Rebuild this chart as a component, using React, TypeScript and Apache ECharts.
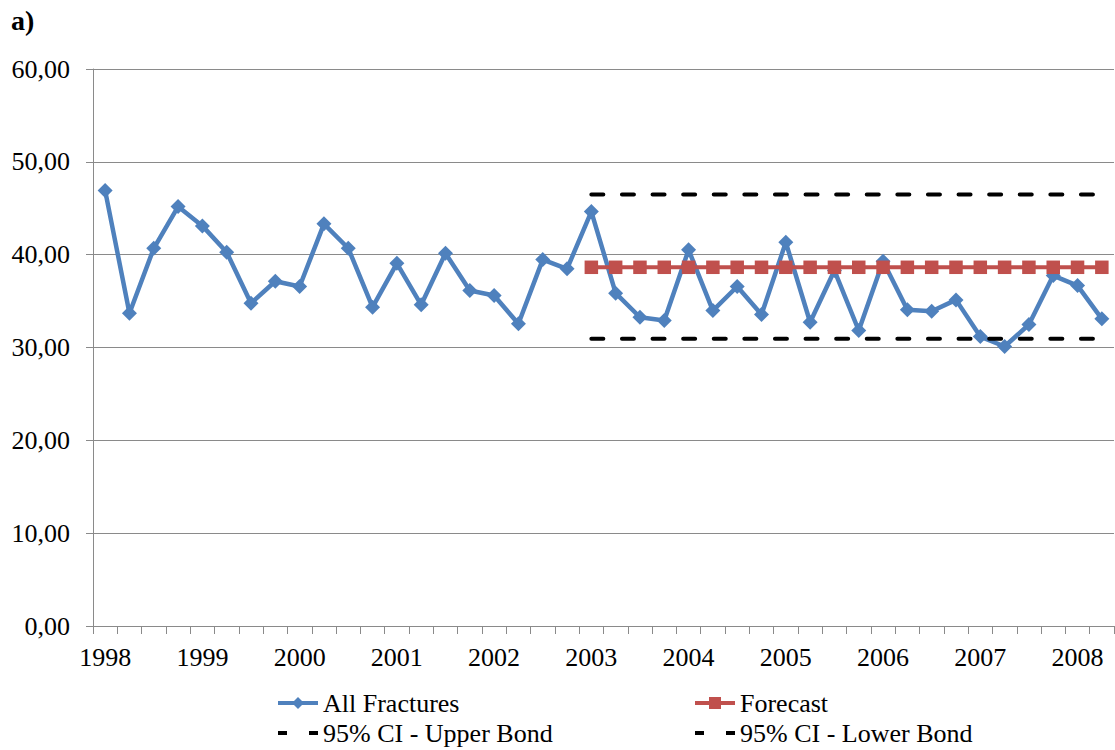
import React, { useEffect, useRef } from "react";
import * as echarts from "echarts";

const years = ["1998","1999","2000","2001","2002","2003","2004","2005","2006","2007","2008"];
const quarters = ["Q1","Q2","Q3","Q4"];
const categories: string[] = [];
years.forEach((y) => quarters.forEach((q) => categories.push(y + " " + q)));
categories.length = 42; // 1998 Q1 .. 2008 Q2

const allFractures = [
  46.90, 33.69, 40.69, 45.18, 43.10, 40.26, 34.77, 37.14, 36.57, 43.32,
  40.69, 34.34, 39.07, 34.60, 40.15, 36.14, 35.60, 32.55, 39.47, 38.47,
  44.64, 35.85, 33.26, 32.91, 40.52, 33.98, 36.57, 33.55, 41.33, 32.72,
  38.29, 31.83, 39.29, 34.06, 33.91, 35.13, 31.18, 30.11, 32.48, 37.75,
  36.67, 33.09,
];

const N = null;
const forecast = [
  N, N, N, N, N, N, N, N, N, N, N, N, N, N, N, N, N, N, N, N,
  38.64, 38.64, 38.64, 38.64, 38.64, 38.64, 38.64, 38.64, 38.64, 38.64,
  38.64, 38.64, 38.64, 38.64, 38.64, 38.64, 38.64, 38.64, 38.64, 38.64,
  38.64, 38.64,
];
const upperBond = [
  N, N, N, N, N, N, N, N, N, N, N, N, N, N, N, N, N, N, N, N,
  46.47, 46.47, 46.47, 46.47, 46.47, 46.47, 46.47, 46.47, 46.47, 46.47,
  46.47, 46.47, 46.47, 46.47, 46.47, 46.47, 46.47, 46.47, 46.47, 46.47,
  46.47, 46.47,
];
const lowerBond = [
  N, N, N, N, N, N, N, N, N, N, N, N, N, N, N, N, N, N, N, N,
  30.94, 30.94, 30.94, 30.94, 30.94, 30.94, 30.94, 30.94, 30.94, 30.94,
  30.94, 30.94, 30.94, 30.94, 30.94, 30.94, 30.94, 30.94, 30.94, 30.94,
  30.94, 30.94,
];

const FONT = "Liberation Serif";
const GRAY = "#8a8a8a";
const BLUE = "#4F81BD";
const RED = "#C0504D";

export default function App() {
  const ref = useRef<HTMLDivElement>(null);
  useEffect(() => {
    if (!ref.current) return;
    const chart = echarts.init(ref.current, null, { renderer: "svg" });
    const dash = { width: 4, color: "#000", type: [12, 18.6] as any, cap: "round" as any };
    const legendDash = (name: string) => ({
      name,
      itemStyle: { color: "rgba(0,0,0,0)", borderWidth: 0, opacity: 0 },
      lineStyle: { width: 4, color: "#000", type: [9, 22] as any, cap: "butt" as any },
    });
    const legendSolid = (name: string, color: string) => ({
      name,
      itemStyle: { color },
      lineStyle: { width: 4, color, type: "solid" as any },
    });
    const legendText = { fontFamily: FONT, fontSize: 26, color: "#000", lineHeight: 26 };
    chart.setOption({
      animation: false,
      backgroundColor: "#fff",
      textStyle: { fontFamily: FONT },
      title: {
        text: "a)",
        left: 11,
        top: 6,
        padding: 0,
        textStyle: { fontFamily: FONT, fontSize: 28, fontWeight: "bold", color: "#000" },
      },
      grid: { left: 93, right: 1, top: 69, bottom: 124, containLabel: false },
      legend: [
        {
          orient: "vertical",
          left: 276,
          top: 690,
          padding: 0,
          itemWidth: 40,
          itemHeight: 15,
          itemGap: 4,
          data: [legendSolid("All Fractures", BLUE), legendDash("95% CI - Upper Bond")],
          textStyle: legendText,
        },
        {
          orient: "vertical",
          left: 693,
          top: 690,
          padding: 0,
          itemWidth: 40,
          itemHeight: 15,
          itemGap: 4,
          data: [legendSolid("Forecast", RED), legendDash("95% CI - Lower Bond")],
          textStyle: legendText,
        },
      ],
      xAxis: {
        type: "category",
        data: categories,
        boundaryGap: true,
        axisLine: { lineStyle: { color: GRAY, width: 1 } },
        axisTick: { show: true, interval: 0, length: 8, lineStyle: { color: GRAY } },
        axisLabel: {
          interval: 3,
          margin: 18,
          fontFamily: FONT,
          fontSize: 26,
          color: "#000",
          formatter: (v: string) => v.slice(0, 4),
        },
        splitLine: { show: false },
      },
      yAxis: {
        type: "value",
        min: 0,
        max: 60,
        interval: 10,
        axisLine: { show: true, lineStyle: { color: GRAY, width: 1 } },
        axisTick: { show: true, length: 7, lineStyle: { color: GRAY } },
        axisLabel: {
          margin: 23,
          fontFamily: FONT,
          fontSize: 26,
          color: "#000",
          formatter: (v: number) => v.toFixed(2).replace(".", ","),
        },
        splitLine: { show: true, lineStyle: { color: GRAY, width: 1 } },
      },
      series: [
        {
          name: "All Fractures",
          type: "line",
          data: allFractures,
          symbol: "diamond",
          symbolSize: 15,
          color: BLUE,
          lineStyle: { width: 4.5, color: BLUE },
          itemStyle: { color: BLUE },
        },
        {
          name: "Forecast",
          type: "line",
          data: forecast,
          symbol: "rect",
          symbolSize: 13.5,
          color: RED,
          lineStyle: { width: 4, color: RED },
          itemStyle: { color: RED },
        },
        {
          name: "95% CI - Upper Bond",
          type: "line",
          data: upperBond,
          symbol: "none",
          color: "#000",
          lineStyle: dash,
        },
        {
          name: "95% CI - Lower Bond",
          type: "line",
          data: lowerBond,
          symbol: "none",
          color: "#000",
          lineStyle: dash,
        },
      ],
    });
    return () => chart.dispose();
  }, []);
  return (
    <div
      ref={ref}
      style={{ position: "fixed", left: 0, top: 0, width: 1115, height: 750, background: "#fff" }}
    />
  );
}
